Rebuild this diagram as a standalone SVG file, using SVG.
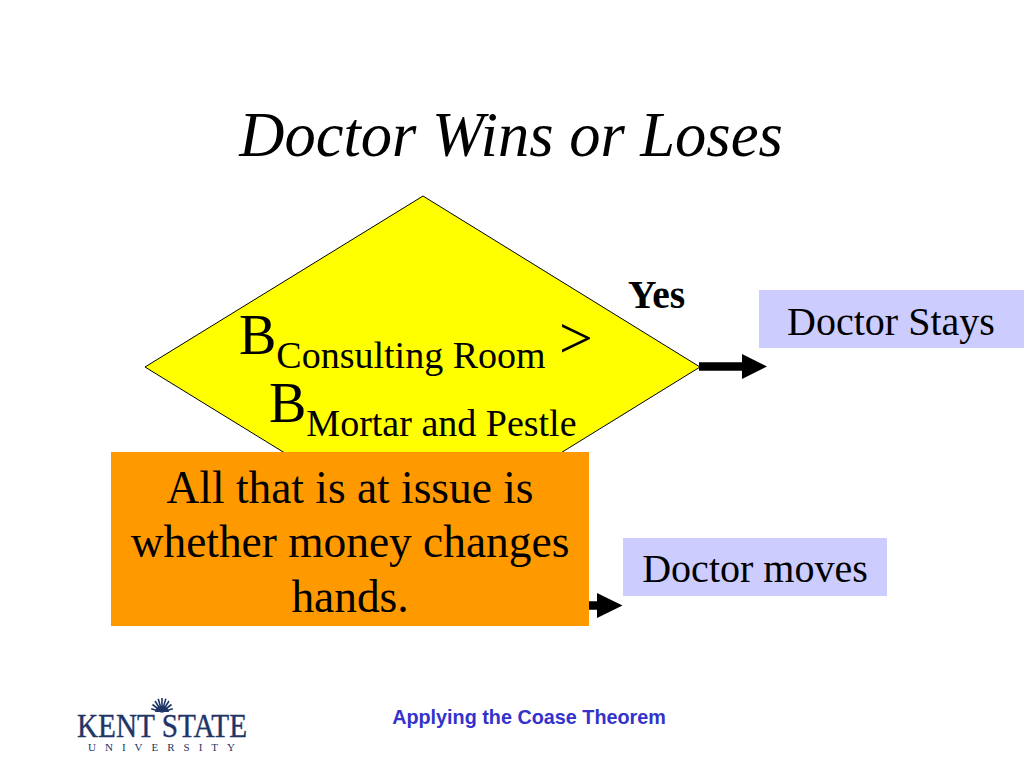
<svg xmlns="http://www.w3.org/2000/svg" width="1024" height="768" viewBox="0 0 1024 768">
<style>
.s{font-family:"Liberation Serif","Times New Roman",serif;fill:#000}
.box{fill:#ccccff}
.arrow{stroke:#000;stroke-width:8.5;fill:none}
.head{fill:#000}
.n{font-size:45.4px;text-anchor:middle}
.b{font-size:40px;text-anchor:middle}
.logo{font-family:"Liberation Serif","Times New Roman",serif;fill:#1f3566}
</style>
<rect width="1024" height="768" fill="#fff"/>
<text class="s" x="511" y="156" font-size="62.5" font-style="italic" text-anchor="middle">Doctor Wins or Loses</text>
<g id="decision">
<polygon points="423,196 700,367 423,538 145,367" fill="#ffff00" stroke="#000" stroke-width="1"/>
<text class="s" x="239" y="354" font-size="56">B<tspan font-size="38" dy="14">Consulting Room </tspan><tspan dx="4" dy="-10" font-size="60">&gt;</tspan></text>
<text class="s" x="269" y="421.5" font-size="56">B<tspan font-size="38" dy="14">Mortar and Pestle</tspan></text>
</g>
<g id="connectors">
<path class="arrow" d="M699 366.500H744"/><polygon class="head" points="742,354 767,366.500 742,379"/>
<path class="arrow" d="M585 605.500H600"/><polygon class="head" points="597,593 622.500,605.500 597,618"/>
</g>
<g id="yes"><text class="s" x="628" y="308" font-size="39.500" font-weight="bold">Yes</text></g>
<g id="stays"><rect class="box" x="759" y="290" width="265" height="58"/><text class="s b" x="891" y="335">Doctor Stays</text></g>
<g id="moves"><rect class="box" x="623" y="538" width="264" height="58"/><text class="s b" x="755" y="582">Doctor moves</text></g>
<g id="note"><rect x="111" y="452" width="478" height="174" fill="#ff9900"/>
<text class="s n" x="350" y="503">All that is at issue is</text><text class="s n" x="350" y="557">whether money changes</text><text class="s n" x="350" y="612">hands.</text></g>
<g id="footer"><text x="529" y="724" font-family="Liberation Sans,Arial,sans-serif" font-weight="bold" font-size="19.800" fill="#3333cc" text-anchor="middle">Applying the Coase Theorem</text></g>
<g id="logo">
<path stroke="#1f3566" stroke-width="1.600" fill="none" d="M162 712L172.800 708.700M162 712L171.500 704.500M162 712L169 701M162 712L165.800 698.800M162 712V698M162 712L158.200 698.800M162 712L155 701M162 712L152.500 704.500M162 712L151.200 708.700"/>
<path fill="#1f3566" d="M155 712a7 6 0 0 1 14 0z"/>
<text class="logo" x="77" y="737" font-size="33" stroke="#1f3566" stroke-width="0.400" textLength="170" lengthAdjust="spacingAndGlyphs">KENT STATE</text>
<text class="logo" x="88" y="750.500" font-size="11" textLength="147">UNIVERSITY</text></g>
</svg>
